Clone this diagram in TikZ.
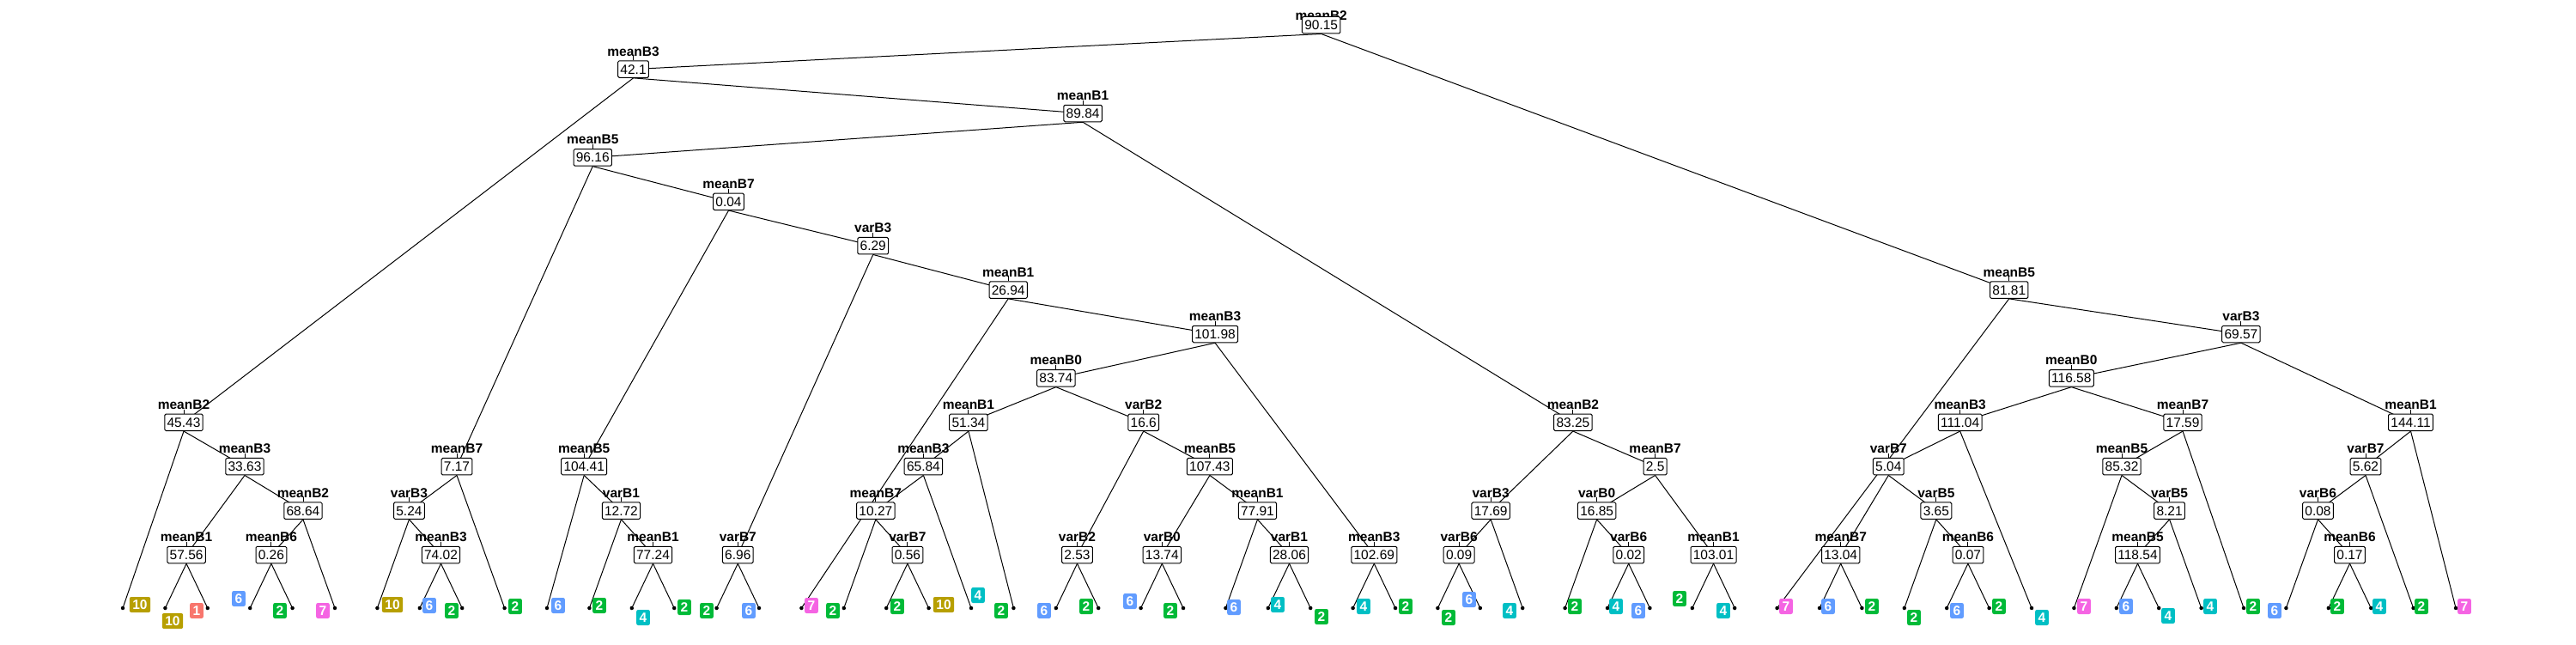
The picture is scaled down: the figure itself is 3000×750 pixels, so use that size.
\documentclass[tikz,border=0pt]{standalone}
\usepackage{fontspec}
\setmainfont{Liberation Sans}
\usetikzlibrary{backgrounds}
\definecolor{c1}{HTML}{F8766D}
\definecolor{c10}{HTML}{B79F00}
\definecolor{c2}{HTML}{00BA38}
\definecolor{c4}{HTML}{00BFC4}
\definecolor{c6}{HTML}{619CFF}
\definecolor{c7}{HTML}{F564E3}
\newcommand\nfont{\fontsize{15.5pt}{18pt}\selectfont}
\tikzset{
 split/.style={draw, fill=white, rounded corners=1.5pt, line width=1pt, inner xsep=2.8pt, inner ysep=0pt, minimum height=19.5pt, text height=11pt, text depth=0pt, font=\nfont},
 varlab/.style={font=\nfont\bfseries, inner sep=0pt, anchor=south, text depth=0pt},
 tick/.style={line width=0.9pt},
 edge/.style={line width=1pt},
 leafdot/.style={circle, fill=black, inner sep=0pt, minimum size=4.5pt},
 leaflab/.style={fill=#1, text=white, font=\nfont\bfseries, rounded corners=2pt, inner xsep=3.5pt, inner ysep=0pt, minimum height=18pt, text height=11pt, text depth=0pt},
}
\newcommand\splitnode[5]{%
 \node[split] (#1) at (#2,#3) {#5};
 \node[varlab] (#1l) at ([yshift=5pt]#1.north) {#4};
 \draw[tick] (#1.north) -- (#1l.south);
}
\newcommand\leafnode[5]{%
 \node[leafdot] (l#1) at (#2,708) {};
 \node[leaflab=c#5] (ll#1) at (#3,#4) {#5};
}
\begin{document}
\begin{tikzpicture}[x=1pt,y=-1pt]
\useasboundingbox (0,0) rectangle (3000,750);
% root
\node[varlab] (rootl) at (1538.65,23.5) {meanB2};
\node[split] (root) at (1538.65,29.2) {90.15};
% internal nodes
\splitnode{H9}{737.55}{80.6}{meanB3}{42.1}
\splitnode{K6}{2339.75}{337.6}{meanB5}{81.81}
\splitnode{A5}{214}{491.8}{meanB2}{45.43}
\splitnode{A4}{285}{543.2}{meanB3}{33.63}
\splitnode{A1}{217.1}{646}{meanB1}{57.56}
\splitnode{A3}{352.95}{594.6}{meanB2}{68.64}
\splitnode{A2}{315.9}{646}{meanB6}{0.26}
\splitnode{H8}{1261.1}{132}{meanB1}{89.84}
\splitnode{G7}{690.25}{183.4}{meanB5}{96.16}
\splitnode{B3}{532}{543.2}{meanB7}{7.17}
\splitnode{B2}{476.45}{594.6}{varB3}{5.24}
\splitnode{B1}{513.5}{646}{meanB3}{74.02}
\splitnode{G6}{848.5}{234.8}{meanB7}{0.04}
\splitnode{C3}{680.2}{543.2}{meanB5}{104.41}
\splitnode{C2}{723.45}{594.6}{varB1}{12.72}
\splitnode{C1}{760.5}{646}{meanB1}{77.24}
\splitnode{G5}{1016.75}{286.2}{varB3}{6.29}
\splitnode{D1}{859.3}{646}{varB7}{6.96}
\splitnode{G4}{1174.2}{337.6}{meanB1}{26.94}
\splitnode{G3}{1415.05}{389}{meanB3}{101.98}
\splitnode{G1}{1229.8}{440.4}{meanB0}{83.74}
\splitnode{E4}{1127.9}{491.8}{meanB1}{51.34}
\splitnode{E3}{1075.4}{543.2}{meanB3}{65.84}
\splitnode{E2}{1019.85}{594.6}{meanB7}{10.27}
\splitnode{E1}{1056.9}{646}{varB7}{0.56}
\splitnode{F6}{1331.7}{491.8}{varB2}{16.6}
\splitnode{F1}{1254.5}{646}{varB2}{2.53}
\splitnode{F5}{1408.9}{543.2}{meanB5}{107.43}
\splitnode{F2}{1353.3}{646}{varB0}{13.74}
\splitnode{F4}{1464.45}{594.6}{meanB1}{77.91}
\splitnode{F3}{1501.5}{646}{varB1}{28.06}
\splitnode{G2}{1600.3}{646}{meanB3}{102.69}
\splitnode{H7}{1831.9}{491.8}{meanB2}{83.25}
\splitnode{H2}{1736.15}{594.6}{varB3}{17.69}
\splitnode{H1}{1699.1}{646}{varB6}{0.09}
\splitnode{H6}{1927.6}{543.2}{meanB7}{2.5}
\splitnode{H4}{1859.65}{594.6}{varB0}{16.85}
\splitnode{H3}{1896.7}{646}{varB6}{0.02}
\splitnode{H5}{1995.5}{646}{meanB1}{103.01}
\splitnode{K5}{2609.9}{389}{varB3}{69.57}
\splitnode{J5}{2412.3}{440.4}{meanB0}{116.58}
\splitnode{I5}{2282.65}{491.8}{meanB3}{111.04}
\splitnode{I4}{2199.3}{543.2}{varB7}{5.04}
\splitnode{I1}{2143.7}{646}{meanB7}{13.04}
\splitnode{I3}{2254.85}{594.6}{varB5}{3.65}
\splitnode{I2}{2291.9}{646}{meanB6}{0.07}
\splitnode{J4}{2542}{491.8}{meanB7}{17.59}
\splitnode{J3}{2471}{543.2}{meanB5}{85.32}
\splitnode{J2}{2526.55}{594.6}{varB5}{8.21}
\splitnode{J1}{2489.5}{646}{meanB5}{118.54}
\splitnode{K4}{2807.5}{491.8}{meanB1}{144.11}
\splitnode{K3}{2755}{543.2}{varB7}{5.62}
\splitnode{K2}{2699.45}{594.6}{varB6}{0.08}
\splitnode{K1}{2736.5}{646}{meanB6}{0.17}
% leaves
\leafnode{1}{143}{163}{704}{10}
\leafnode{2}{192.4}{201}{723}{10}
\leafnode{3}{241.8}{229}{711}{1}
\leafnode{4}{291.2}{278}{697}{6}
\leafnode{5}{340.6}{326}{711}{2}
\leafnode{6}{390}{376}{711}{7}
\leafnode{7}{439.4}{457}{704}{10}
\leafnode{8}{488.8}{500}{705}{6}
\leafnode{9}{538.2}{526}{711}{2}
\leafnode{10}{587.6}{600}{706}{2}
\leafnode{11}{637}{650}{705}{6}
\leafnode{12}{686.4}{698}{705}{2}
\leafnode{13}{735.8}{749}{719}{4}
\leafnode{14}{785.2}{797}{707}{2}
\leafnode{15}{834.6}{823}{711}{2}
\leafnode{16}{884}{872}{711}{6}
\leafnode{17}{933.4}{945}{705}{7}
\leafnode{18}{982.8}{970}{711}{2}
\leafnode{19}{1032.2}{1045}{706}{2}
\leafnode{20}{1081.6}{1099}{704}{10}
\leafnode{21}{1131}{1139}{693}{4}
\leafnode{22}{1180.4}{1166}{711}{2}
\leafnode{23}{1229.8}{1216}{711}{6}
\leafnode{24}{1279.2}{1265}{706}{2}
\leafnode{25}{1328.6}{1316}{700}{6}
\leafnode{26}{1378}{1363}{711}{2}
\leafnode{27}{1427.4}{1437}{707}{6}
\leafnode{28}{1476.8}{1488}{704}{4}
\leafnode{29}{1526.2}{1539}{718}{2}
\leafnode{30}{1575.6}{1588}{706}{4}
\leafnode{31}{1625}{1637}{706}{2}
\leafnode{32}{1674.4}{1687}{719}{2}
\leafnode{33}{1723.8}{1711}{698}{6}
\leafnode{34}{1773.2}{1758}{711}{4}
\leafnode{35}{1822.6}{1834}{706}{2}
\leafnode{36}{1872}{1882}{706}{4}
\leafnode{37}{1921.4}{1908}{711}{6}
\leafnode{38}{1970.8}{1956}{697}{2}
\leafnode{39}{2020.2}{2007}{711}{4}
\leafnode{40}{2069.6}{2080}{706}{7}
\leafnode{41}{2119}{2129}{706}{6}
\leafnode{42}{2168.4}{2180}{706}{2}
\leafnode{43}{2217.8}{2229}{719}{2}
\leafnode{44}{2267.2}{2279}{711}{6}
\leafnode{45}{2316.6}{2328}{706}{2}
\leafnode{46}{2366}{2378}{719}{4}
\leafnode{47}{2415.4}{2427}{706}{7}
\leafnode{48}{2464.8}{2476}{706}{6}
\leafnode{49}{2514.2}{2525}{717}{4}
\leafnode{50}{2563.6}{2574}{706}{4}
\leafnode{51}{2613}{2624}{706}{2}
\leafnode{52}{2662.4}{2649}{711}{6}
\leafnode{53}{2711.8}{2722}{706}{2}
\leafnode{54}{2761.2}{2771}{706}{4}
\leafnode{55}{2810.6}{2820}{706}{2}
\leafnode{56}{2860}{2870}{706}{7}
% edges
\begin{pgfonlayer}{background}
\fill[white] (0,0) rectangle (3000,750);
\foreach \a/\b in {root/H9, root/K6, H9/A5, H9/H8, A5/l1, A5/A4, A4/A1, A4/A3,
 A1/l2, A1/l3, A3/A2, A3/l6, A2/l4, A2/l5, H8/G7, H8/H7, G7/B3, G7/G6,
 B3/B2, B3/l10, B2/l7, B2/B1, B1/l8, B1/l9, G6/C3, G6/G5, C3/l11, C3/C2,
 C2/l12, C2/C1, C1/l13, C1/l14, G5/D1, G5/G4, D1/l15, D1/l16, G4/l17, G4/G3,
 G3/G1, G3/G2, G1/E4, G1/F6, E4/E3, E4/l22, E3/E2, E3/l21, E2/l18, E2/E1,
 E1/l19, E1/l20, F6/F1, F6/F5, F1/l23, F1/l24, F5/F2, F5/F4, F2/l25, F2/l26,
 F4/l27, F4/F3, F3/l28, F3/l29, G2/l30, G2/l31, H7/H2, H7/H6, H2/H1, H2/l34,
 H1/l32, H1/l33, H6/H4, H6/H5, H4/l35, H4/H3, H3/l36, H3/l37, H5/l38, H5/l39,
 K6/l40, K6/K5, K5/J5, K5/K4, J5/I5, J5/J4, I5/I4, I5/l46, I4/I1, I4/I3,
 I1/l41, I1/l42, I3/l43, I3/I2, I2/l44, I2/l45, J4/J3, J4/l51, J3/l47, J3/J2,
 J2/J1, J2/l50, J1/l48, J1/l49, K4/K3, K4/l56, K3/K2, K3/l55, K2/l52, K2/K1,
 K1/l53, K1/l54}
 \draw[edge] (\a.south) -- (\b.center);
\end{pgfonlayer}
\end{tikzpicture}
\end{document}
